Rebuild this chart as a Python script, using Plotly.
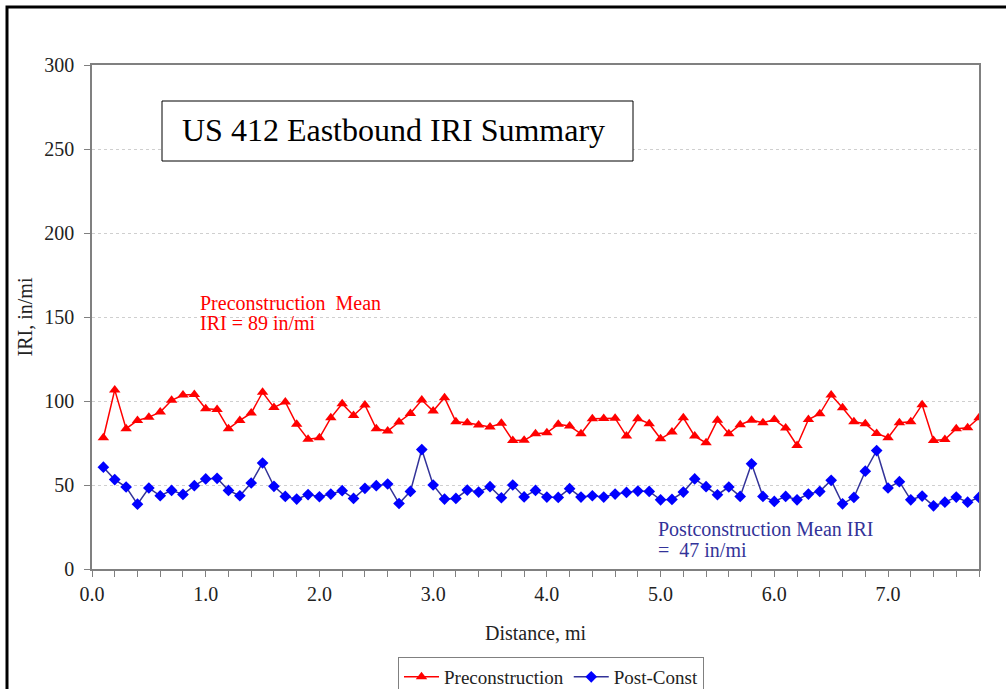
import plotly.graph_objects as go

# ---- data ----
distance_mi = [round(0.1 * i, 1) for i in range(1, 79)]

pre_iri = [78.1, 106.6, 83.5, 88.4, 90.4, 93.4, 100.4, 103.6, 103.8, 95.4,
           95.0, 83.5, 88.4, 92.8, 105.2, 96.2, 99.4, 86.1, 77.3, 78.1,
           90.0, 98.4, 91.4, 97.6, 83.5, 82.1, 87.5, 92.6, 100.6, 94.0,
           102.0, 87.6, 87.1, 85.7, 84.5, 86.7, 76.5, 76.6, 80.5, 81.1,
           86.1, 85.1, 80.5, 89.4, 89.6, 89.8, 79.1, 89.4, 86.5, 77.5,
           81.5, 90.0, 79.1, 75.1, 88.6, 80.5, 85.9, 88.6, 87.1, 89.0,
           83.9, 73.5, 89.0, 92.4, 103.6, 96.0, 87.6, 86.5, 80.7, 78.1,
           87.1, 87.6, 97.8, 76.5, 77.1, 83.5, 84.1, 90.0]

post_iri = [60.6, 53.2, 48.8, 38.6, 48.2, 43.6, 46.8, 44.4, 49.6, 53.6,
            54.0, 46.8, 43.6, 51.2, 63.1, 49.2, 43.2, 41.6, 44.3, 43.0,
            44.6, 46.6, 42.0, 48.0, 49.6, 50.6, 39.0, 46.2, 71.1, 50.0,
            41.6, 42.0, 47.0, 45.8, 49.0, 42.4, 50.0, 42.9, 46.8, 42.8,
            42.6, 47.8, 42.8, 43.6, 42.8, 44.6, 45.6, 46.4, 46.2, 41.2,
            41.4, 45.8, 53.6, 49.0, 44.2, 48.8, 43.2, 62.6, 43.2, 40.2,
            43.2, 41.2, 44.6, 46.2, 52.8, 38.8, 42.6, 58.2, 70.5, 48.2,
            52.0, 41.2, 43.4, 37.6, 39.8, 42.8, 39.8, 42.6]

series_names = ["Preconstruction", "Post-Const"]
chart_title = "US 412 Eastbound IRI Summary"
pre_note = ["Preconstruction  Mean", "IRI = 89 in/mi"]
post_note = ["Postconstruction Mean IRI", "=  47 in/mi"]
x_ticks = [0, 1, 2, 3, 4, 5, 6, 7]
y_ticks = [0, 50, 100, 150, 200, 250, 300]

# ---- layout geometry (pixels) ----
W, H = 1006, 689
L, R, T, B = 92, 979, 65, 569
PW, PH = R - L, B - T


def px(x):
    return (x - L) / PW


def py(y):
    return (B - y) / PH


FONT = "Liberation Serif, Times New Roman, serif"

fig = go.Figure()
fig.add_trace(go.Scatter(
    x=distance_mi, y=pre_iri, name=series_names[0], mode="lines+markers",
    line=dict(color="#FF0000", width=1.5),
    marker=dict(symbol="triangle-up", size=10, color="#FF0000"),
))
fig.add_trace(go.Scatter(
    x=distance_mi, y=post_iri, name=series_names[1], mode="lines+markers",
    line=dict(color="#333399", width=1.5),
    marker=dict(symbol="diamond", size=9, color="#0000FF"),
))

shapes = [
    # outer frame
    dict(type="rect", xref="paper", yref="paper",
         x0=px(7), x1=px(1012), y0=py(7), y1=py(720),
         line=dict(color="black", width=3), fillcolor="rgba(0,0,0,0)", layer="above"),
    # title box
    dict(type="rect", xref="paper", yref="paper",
         x0=px(162), x1=px(633), y0=py(101), y1=py(161),
         line=dict(color="black", width=1), fillcolor="white", layer="above"),
]

annotations = [
    dict(text=chart_title, xref="paper", yref="paper", x=px(393), y=py(130),
         xanchor="center", yanchor="middle", showarrow=False,
         font=dict(family=FONT, size=32, color="black")),
    dict(text=pre_note[0], xref="paper", yref="paper", x=px(198), y=py(303),
         xanchor="left", yanchor="middle", showarrow=False,
         font=dict(family=FONT, size=20, color="#FF0000")),
    dict(text=pre_note[1], xref="paper", yref="paper", x=px(198), y=py(323),
         xanchor="left", yanchor="middle", showarrow=False,
         font=dict(family=FONT, size=20, color="#FF0000")),
    dict(text=post_note[0], xref="paper", yref="paper", x=px(656), y=py(529),
         xanchor="left", yanchor="middle", showarrow=False,
         font=dict(family=FONT, size=20, color="#333399")),
    dict(text=post_note[1], xref="paper", yref="paper", x=px(656), y=py(550),
         xanchor="left", yanchor="middle", showarrow=False,
         font=dict(family=FONT, size=20, color="#333399")),
]

fig.update_layout(
    width=W, height=H,
    margin=dict(l=L, r=W - R, t=T, b=H - B, autoexpand=False),
    paper_bgcolor="white", plot_bgcolor="white",
    font=dict(family=FONT, size=20, color="#222222"),
    showlegend=True,
    legend=dict(orientation="h", x=px(398), y=py(657), xanchor="left", yanchor="top",
                bordercolor="#808080", borderwidth=1, bgcolor="white",
                font=dict(family=FONT, size=19, color="#222222"),
                itemwidth=35, tracegroupgap=0),
    shapes=shapes,
    annotations=annotations,
    xaxis=dict(
        range=[0, 7.8], tickvals=x_ticks, tickformat=".1f",
        showgrid=False, zeroline=False,
        showline=True, mirror=True, linecolor="#808080", linewidth=1.5,
        ticks="outside", ticklen=6, tickcolor="#808080", tickwidth=1,
        minor=dict(dtick=0.2, tick0=0, ticks="outside", ticklen=6, tickcolor="#808080", showgrid=False),
        title=dict(text="Distance, mi", standoff=22, font=dict(family=FONT, size=20)),
        automargin=False,
    ),
    yaxis=dict(
        range=[0, 300], tickvals=y_ticks,
        showgrid=True, gridcolor="#cfcfcf", griddash="dot", gridwidth=1,
        zeroline=False,
        showline=True, mirror=True, linecolor="#808080", linewidth=1.5,
        ticks="outside", ticklen=6, tickcolor="#808080", tickwidth=1,
        ticklabelstandoff=6,
        title=dict(text="IRI, in/mi", standoff=6, font=dict(family=FONT, size=20)),
        automargin=False,
    ),
)

fig.write_html(
    "out.html",
    config={"displayModeBar": False},
    post_script="document.body.style.margin='0px';document.body.style.overflow='hidden';",
)
